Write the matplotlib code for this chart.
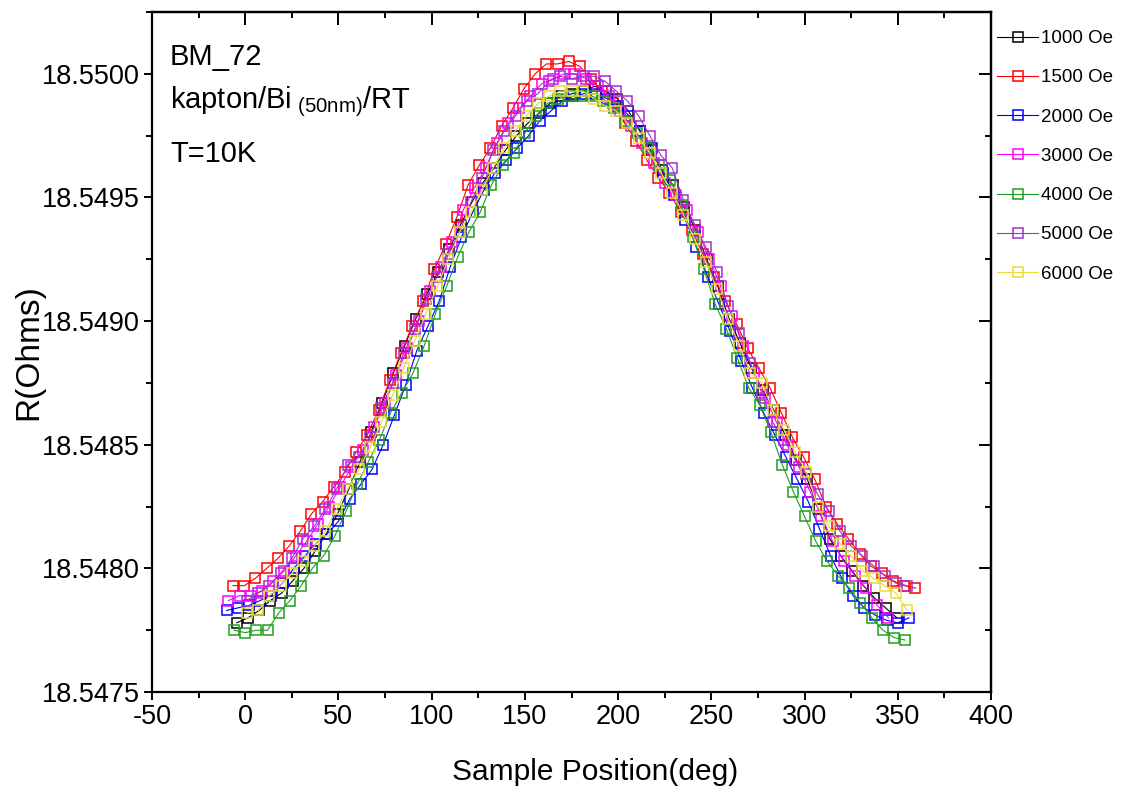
import matplotlib
matplotlib.use("Agg")
import matplotlib.pyplot as plt
from matplotlib.ticker import MultipleLocator, FormatStrFormatter

plt.rcParams['font.family'] = ['Liberation Sans', 'DejaVu Sans']
plt.rcParams['mathtext.fontset'] = 'custom'
plt.rcParams['mathtext.rm'] = 'Liberation Sans'
plt.rcParams['mathtext.it'] = 'Liberation Sans'
plt.rcParams['axes.unicode_minus'] = False

# Sample position (deg) and resistance (Ohms) for each applied field
deg_1000 = [-4.5, 1.5, 7.5, 13.5, 19.5, 25.5, 31.5, 37.5, 43.5, 49.5, 55.5, 61.5, 67.5, 73.5, 79.5,
            85.5, 91.5, 97.5, 103.5, 109.5, 115.5, 121.5, 127.5, 133.5, 139.5, 145.5, 151.5, 157.5,
            163.5, 169.5, 175.5, 181.5, 187.5, 193.5, 199.5, 205.5, 211.5, 217.5, 223.5, 229.5,
            235.5, 241.5, 247.5, 253.5, 259.5, 265.5, 271.5, 277.5, 283.5, 289.5, 295.5, 301.5,
            307.5, 313.5, 319.5, 325.5, 331.5, 337.5, 343.5, 349.5]
r_1000 = [18.54778, 18.54780, 18.54783, 18.54787, 18.54790, 18.54795, 18.54800, 18.54807, 18.54814,
          18.54822, 18.54832, 18.54843, 18.54855, 18.54867, 18.54879, 18.54890, 18.54901, 18.54911,
          18.54920, 18.54929, 18.54939, 18.54948, 18.54956, 18.54962, 18.54969, 18.54975, 18.54980,
          18.54984, 18.54988, 18.54991, 18.54992, 18.54993, 18.54995, 18.54993, 18.54990, 18.54985,
          18.54977, 18.54969, 18.54961, 18.54955, 18.54946, 18.54937, 18.54925, 18.54914, 18.54901,
          18.54891, 18.54881, 18.54872, 18.54864, 18.54854, 18.54844, 18.54836, 18.54824, 18.54812,
          18.54805, 18.54799, 18.54793, 18.54788, 18.54784, 18.54780]

deg_1500 = [-6.5, -0.5, 5.5, 11.5, 17.5, 23.5, 29.5, 35.5, 41.5, 47.5, 53.5, 59.5, 65.5, 71.5, 77.5,
            83.5, 89.5, 95.5, 101.5, 107.5, 113.5, 119.5, 125.5, 131.5, 137.5, 143.5, 149.5, 155.5,
            161.5, 167.5, 173.5, 179.5, 185.5, 191.5, 197.5, 203.5, 209.5, 215.5, 221.5, 227.5,
            233.5, 239.5, 245.5, 251.5, 257.5, 263.5, 269.5, 275.5, 281.5, 287.5, 293.5, 299.5,
            305.5, 311.5, 317.5, 323.5, 329.5, 335.5, 341.5, 347.5, 353.5, 359.5]
r_1500 = [18.54793, 18.54793, 18.54796, 18.54800, 18.54804, 18.54809, 18.54815, 18.54822, 18.54827,
          18.54833, 18.54839, 18.54847, 18.54854, 18.54864, 18.54876, 18.54887, 18.54898, 18.54908,
          18.54921, 18.54931, 18.54942, 18.54955, 18.54963, 18.54970, 18.54979, 18.54986, 18.54994,
          18.55000, 18.55004, 18.55004, 18.55005, 18.55003, 18.54998, 18.54993, 18.54988, 18.54980,
          18.54973, 18.54965, 18.54958, 18.54952, 18.54944, 18.54937, 18.54927, 18.54918, 18.54908,
          18.54899, 18.54889, 18.54881, 18.54873, 18.54863, 18.54853, 18.54845, 18.54836, 18.54825,
          18.54818, 18.54812, 18.54806, 18.54801, 18.54798, 18.54795, 18.54793, 18.54792]

deg_2000 = [-10, -4, 2, 8, 14, 20, 26, 32, 38, 44, 50, 56, 62, 68, 74, 80, 86, 92, 98, 104, 110, 116,
            122, 128, 134, 140, 146, 152, 158, 164, 170, 176, 182, 188, 194, 200, 206, 212, 218, 224,
            230, 236, 242, 248, 254, 260, 266, 272, 278, 284, 290, 296, 302, 308, 314, 320, 326, 332,
            338, 344, 350, 356]
r_2000 = [18.54783, 18.54784, 18.54785, 18.54787, 18.54789, 18.54794, 18.54800, 18.54805, 18.54810,
          18.54814, 18.54819, 18.54828, 18.54834, 18.54840, 18.54850, 18.54862, 18.54874, 18.54888,
          18.54898, 18.54908, 18.54922, 18.54934, 18.54944, 18.54953, 18.54960, 18.54965, 18.54970,
          18.54975, 18.54981, 18.54985, 18.54989, 18.54991, 18.54992, 18.54992, 18.54990, 18.54987,
          18.54983, 18.54977, 18.54970, 18.54960, 18.54951, 18.54941, 18.54930, 18.54918, 18.54907,
          18.54896, 18.54884, 18.54873, 18.54863, 18.54854, 18.54845, 18.54836, 18.54827, 18.54816,
          18.54805, 18.54796, 18.54789, 18.54784, 18.54781, 18.54779, 18.54778, 18.54780]

deg_3000 = [-9, -3, 3, 9, 15, 21, 27, 33, 39, 45, 51, 57, 63, 69, 75, 81, 87, 93, 99, 105, 111, 117,
            123, 129, 135, 141, 147, 153, 159, 165, 171, 177, 183, 189, 195, 201, 207, 213, 219, 225,
            231, 237, 243, 249, 255, 261, 267, 273, 279, 285, 291, 297, 303, 309, 315, 321, 327, 333,
            339, 345]
r_3000 = [18.54787, 18.54789, 18.54789, 18.54791, 18.54795, 18.54799, 18.54805, 18.54811, 18.54818,
          18.54825, 18.54833, 18.54841, 18.54848, 18.54857, 18.54867, 18.54878, 18.54889, 18.54900,
          18.54912, 18.54922, 18.54932, 18.54945, 18.54954, 18.54962, 18.54972, 18.54980, 18.54986,
          18.54991, 18.54996, 18.54998, 18.55000, 18.55000, 18.54998, 18.54995, 18.54991, 18.54985,
          18.54979, 18.54972, 18.54964, 18.54956, 18.54951, 18.54945, 18.54936, 18.54925, 18.54914,
          18.54902, 18.54890, 18.54879, 18.54869, 18.54859, 18.54850, 18.54841, 18.54831, 18.54821,
          18.54811, 18.54803, 18.54797, 18.54792, 18.54785, 18.54780]

deg_4000 = [-6, 0, 6, 12, 18, 24, 30, 36, 42, 48, 54, 60, 66, 72, 78, 84, 90, 96, 102, 108, 114, 120,
            126, 132, 138, 144, 150, 156, 162, 168, 174, 180, 186, 192, 198, 204, 210, 216, 222, 228,
            234, 240, 246, 252, 258, 264, 270, 276, 282, 288, 294, 300, 306, 312, 318, 324, 330, 336,
            342, 348, 354]
r_4000 = [18.54775, 18.54774, 18.54775, 18.54775, 18.54782, 18.54787, 18.54793, 18.54800, 18.54805,
          18.54813, 18.54823, 18.54834, 18.54843, 18.54852, 18.54863, 18.54871, 18.54879, 18.54890,
          18.54903, 18.54914, 18.54926, 18.54936, 18.54944, 18.54955, 18.54963, 18.54968, 18.54976,
          18.54983, 18.54988, 18.54990, 18.54991, 18.54991, 18.54991, 18.54989, 18.54986, 18.54981,
          18.54976, 18.54970, 18.54963, 18.54957, 18.54947, 18.54934, 18.54921, 18.54907, 18.54897,
          18.54885, 18.54873, 18.54866, 18.54855, 18.54842, 18.54831, 18.54821, 18.54811, 18.54803,
          18.54797, 18.54792, 18.54786, 18.54780, 18.54775, 18.54772, 18.54771]

deg_5000 = [1, 7, 13, 19, 25, 31, 37, 43, 49, 55, 61, 67, 73, 79, 85, 91, 97, 103, 109, 115, 121, 127,
            133, 139, 145, 151, 157, 163, 169, 175, 181, 187, 193, 199, 205, 211, 217, 223, 229, 235,
            241, 247, 253, 259, 265, 271, 277, 283, 289, 295, 301, 307, 313, 319, 325, 331, 337, 343,
            349, 355]
r_5000 = [18.54787, 18.54790, 18.54793, 18.54798, 18.54804, 18.54812, 18.54817, 18.54824, 18.54832,
          18.54842, 18.54845, 18.54853, 18.54865, 18.54875, 18.54887, 18.54897, 18.54909, 18.54918,
          18.54927, 18.54936, 18.54948, 18.54958, 18.54969, 18.54977, 18.54983, 18.54989, 18.54992,
          18.54997, 18.54999, 18.54998, 18.54999, 18.54999, 18.54997, 18.54993, 18.54989, 18.54983,
          18.54975, 18.54967, 18.54962, 18.54949, 18.54939, 18.54930, 18.54920, 18.54906, 18.54895,
          18.54883, 18.54871, 18.54859, 18.54852, 18.54844, 18.54838, 18.54830, 18.54823, 18.54815,
          18.54809, 18.54805, 18.54801, 18.54797, 18.54794, 18.54793]

deg_6000 = [1, 7, 13, 19, 25, 31, 37, 43, 49, 55, 61, 67, 73, 79, 85, 91, 97, 103, 109, 115, 121, 127,
            133, 139, 145, 151, 157, 163, 169, 175, 181, 187, 193, 199, 205, 211, 217, 223, 229, 235,
            241, 247, 253, 259, 265, 271, 277, 283, 289, 295, 301, 307, 313, 319, 325, 331, 337, 343,
            349, 355]
r_6000 = [18.54782, 18.54783, 18.54789, 18.54793, 18.54798, 18.54803, 18.54809, 18.54815, 18.54824,
          18.54832, 18.54840, 18.54849, 18.54859, 18.54870, 18.54881, 18.54892, 18.54903, 18.54914,
          18.54925, 18.54936, 18.54944, 18.54953, 18.54962, 18.54970, 18.54977, 18.54983, 18.54988,
          18.54991, 18.54993, 18.54993, 18.54993, 18.54990, 18.54987, 18.54985, 18.54980, 18.54974,
          18.54968, 18.54960, 18.54952, 18.54943, 18.54933, 18.54924, 18.54913, 18.54901, 18.54890,
          18.54879, 18.54875, 18.54864, 18.54856, 18.54847, 18.54839, 18.54825, 18.54817, 18.54810,
          18.54805, 18.54799, 18.54796, 18.54793, 18.54790, 18.54783]

field_labels = ["1000 Oe", "1500 Oe", "2000 Oe", "3000 Oe", "4000 Oe", "5000 Oe", "6000 Oe"]
positions = [deg_1000, deg_1500, deg_2000, deg_3000, deg_4000, deg_5000, deg_6000]
resistances = [r_1000, r_1500, r_2000, r_3000, r_4000, r_5000, r_6000]
colors = ["#000000", "#FF0000", "#0000FF", "#FF00FF", "#1E9E1E", "#A030D0", "#E6DC3A"]

W, H = 1126, 795
fig = plt.figure(figsize=(W / 100, H / 100), dpi=100)
ax = fig.add_axes([152 / W, 1 - 692 / H, (991 - 152) / W, (692 - 12) / H])

handles = []
for lab, x, y, c in zip(field_labels, positions, resistances, colors):
    h, = ax.plot(x, y, color=c, lw=0.8, marker='s', ms=7, mfc='none', mec=c, mew=1.1, label=lab)
    handles.append(h)

ax.set_xlim(-50, 400)
ax.set_ylim(18.5475, 18.55025)
ax.xaxis.set_major_locator(MultipleLocator(50))
ax.xaxis.set_minor_locator(MultipleLocator(25))
ax.yaxis.set_major_locator(MultipleLocator(0.0005))
ax.yaxis.set_minor_locator(MultipleLocator(0.00025))
ax.yaxis.set_major_formatter(FormatStrFormatter('%.4f'))
ax.tick_params(which='major', direction='out', length=6, width=1.4, labelsize=19.5, pad=3)
ax.tick_params(which='minor', direction='out', length=4, width=1.4)

for s in ax.spines.values():
    s.set_linewidth(1.6)

# mirrored ticks pointing inward on the top and right
top = ax.secondary_xaxis('top')
top.xaxis.set_major_locator(MultipleLocator(50))
top.xaxis.set_minor_locator(MultipleLocator(25))
top.tick_params(which='major', direction='in', length=9, width=1.4, labeltop=False)
top.tick_params(which='minor', direction='in', length=4, width=1.4)
top.spines['top'].set_linewidth(1.6)
right = ax.secondary_yaxis('right')
right.yaxis.set_major_locator(MultipleLocator(0.0005))
right.yaxis.set_minor_locator(MultipleLocator(0.00025))
right.tick_params(which='major', direction='in', length=9, width=1.4, labelright=False)
right.tick_params(which='minor', direction='in', length=4, width=1.4)
right.spines['right'].set_linewidth(1.6)

ax.set_xlabel("Sample Position(deg)", fontsize=21.5)
ax.set_ylabel("R(Ohms)", fontsize=24)
ax.xaxis.set_label_coords((595 - 152) / 839, -0.097)
ax.yaxis.set_label_coords((44 - 152) / 839, 0.5)

fig.text(170 / W, 1 - 65 / H, "BM_72", fontsize=21, va='baseline')
fig.text(170 / W, 1 - 108 / H, r"kapton/Bi$_{\mathrm{\ (50nm)}}$/RT", fontsize=21, va='baseline')
fig.text(170 / W, 1 - 162 / H, "T=10K", fontsize=21, va='baseline')

fig.legend(handles, field_labels, loc='upper left', bbox_to_anchor=(997 / W, 1 - 30 / H),
           frameon=False, fontsize=13.5, handlelength=2.2, handletextpad=0.15,
           labelspacing=1.18, borderpad=0, borderaxespad=0)

fig.savefig("out.png", dpi=100)
